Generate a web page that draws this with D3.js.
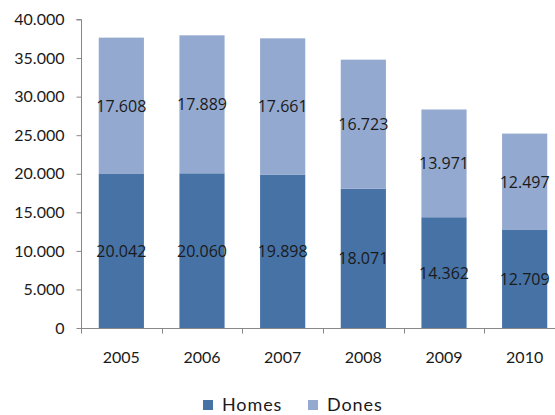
<!DOCTYPE html>
<html><head><meta charset="utf-8">
<script src="https://cdn.jsdelivr.net/npm/d3@7"></script>
<style>
html,body{margin:0;padding:0;background:#fff;overflow:hidden}
text{font-family:Lato, "Open Sans", sans-serif;fill:#1a1a1a}
</style></head>
<body>
<script>
const years = ["2005","2006","2007","2008","2009","2010"];
const homes = [20042, 20060, 19898, 18071, 14362, 12709];
const dones = [17608, 17889, 17661, 16723, 13971, 12497];
const seriesNames = ["Homes","Dones"];
const colors = ["#4672A6","#94A9D0"];
const yTicks = [0,5000,10000,15000,20000,25000,30000,35000,40000];

const W = 555, H = 415;
const svg = d3.select("body").append("svg").attr("width",W).attr("height",H);

const x = d3.scaleBand().domain(years).range([81, 565]).paddingInner(0.44).paddingOuter(0.22);
const y = d3.scaleLinear().domain([0,40000]).range([328, 19.5]);
const fmt = v => d3.format(",")(v).replace(/,/g,".");

const rows = years.map((yr,i)=>({year:yr, Homes:homes[i], Dones:dones[i]}));
const stack = d3.stack().keys(seriesNames)(rows);

// bars
stack.forEach((s,si)=>{
  svg.append("g").selectAll("rect").data(s).join("rect")
    .attr("x", d=>x(d.data.year)).attr("width", x.bandwidth())
    .attr("y", d=>y(d[1])).attr("height", d=>y(d[0])-y(d[1]))
    .attr("fill", colors[si]);
});

// y axis
const yAxis = d3.axisLeft(y).tickValues(yTicks).tickSize(5).tickPadding(12).tickFormat(fmt);
const gy = svg.append("g").attr("transform","translate(81.5,0)").call(yAxis);
gy.select(".domain").attr("stroke","#888").attr("d", `M-5,${y(40000)}H0V${y(0)}`);
gy.selectAll(".tick line").attr("stroke","#888");
gy.selectAll(".tick text").attr("font-size",16).attr("font-family","Lato").attr("fill","#222");

// x axis
const gx = svg.append("g").attr("transform",`translate(0,${y(0)+0.5})`);
gx.append("line").attr("x1",81).attr("x2",565).attr("stroke","#888");
const step = x.step();
const bounds = d3.range(years.length+1).map(i=> (x(years[0]) - x.paddingOuter()*step) + i*step);
gx.selectAll(".tk").data(bounds).join("line").attr("class","tk")
  .attr("x1",d=>Math.round(d)+0.5).attr("x2",d=>Math.round(d)+0.5).attr("y1",0).attr("y2",5).attr("stroke","#888");
gx.selectAll(".lbl").data(years).join("text").attr("class","lbl")
  .attr("x", d=>x(d)+x.bandwidth()/2).attr("y", 34).attr("text-anchor","middle")
  .attr("font-size",16).attr("fill","#222").text(d=>d);

// data labels
stack.forEach((s,si)=>{
  svg.append("g").selectAll("text").data(s).join("text")
    .attr("x", d=>x(d.data.year)+x.bandwidth()/2)
    .attr("y", d=>(y(d[0])+y(d[1]))/2 + 6)
    .attr("text-anchor","middle")
    .style("font-family","'Open Sans'")
    .attr("font-size",16)
    .text(d=>fmt(d[1]-d[0]));
});

// legend
const legX = [203, 308];
seriesNames.forEach((n,i)=>{
  svg.append("rect").attr("x",legX[i]).attr("y",400).attr("width",10).attr("height",10).attr("fill",colors[i]);
  svg.append("text").attr("x",legX[i]+19).attr("y",411).attr("font-size",18)
    .attr("fill","#222").style("letter-spacing","0.9px").text(n);
});
</script>
</body></html>
